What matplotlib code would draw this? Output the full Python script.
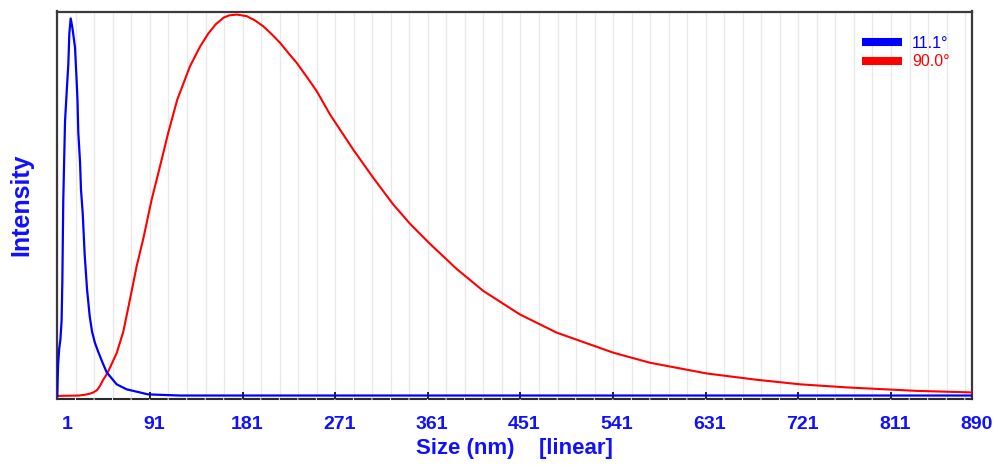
import matplotlib
matplotlib.use('Agg')
import matplotlib.pyplot as plt
from matplotlib.lines import Line2D
from matplotlib.transforms import ScaledTranslation

plt.rcParams['font.family'] = ['Liberation Sans', 'DejaVu Sans']

# intensity distribution vs. size, detector at 11.1 deg
size_11 = [1.0, 1.3, 1.8, 2.8, 4.0, 5.2, 5.9, 6.8, 8.5, 10.3, 11.7, 12.7, 14.0,
           15.6, 18.2, 19.5, 20.6, 21.4, 23.1, 24.0, 25.7, 27.6, 29.9, 32.5,
           34.8, 37.5, 40.8, 45.0, 49.0, 58.7, 68.4, 81.3, 89.0, 120.0, 890.0]
int_11 = [0.003, 0.040, 0.085, 0.125, 0.150, 0.200, 0.300, 0.510, 0.715, 0.800,
          0.863, 0.943, 0.982, 0.959, 0.907, 0.837, 0.772, 0.687, 0.609, 0.539,
          0.477, 0.370, 0.280, 0.210, 0.170, 0.142, 0.118, 0.090, 0.065, 0.034,
          0.021, 0.013, 0.008, 0.005, 0.005]

# detector at 90.0 deg
size_90 = [1.0, 22.0, 28.0, 32.8, 36.0, 39.6, 42.5, 45.4, 49.0, 53.0, 58.7,
           65.1, 71.6, 78.1, 84.6, 92.7, 100.8, 108.8, 117.6, 129.9, 139.7,
           147.7, 155.0, 162.5, 168.0, 175.6, 185.0, 193.0, 201.0, 209.0,
           217.4, 225.0, 233.6, 243.0, 253.0, 266.0, 275.7, 288.6, 308.0,
           327.4, 343.7, 363.1, 389.0, 414.9, 450.5, 486.2, 541.2, 576.8,
           632.4, 680.0, 722.8, 768.4, 836.4, 890.0]
int_90 = [0.004, 0.005, 0.007, 0.010, 0.013, 0.019, 0.030, 0.045, 0.060, 0.082,
          0.115, 0.170, 0.254, 0.340, 0.412, 0.513, 0.599, 0.686, 0.772, 0.858,
          0.909, 0.943, 0.967, 0.984, 0.990, 0.992, 0.988, 0.977, 0.962, 0.942,
          0.919, 0.894, 0.867, 0.832, 0.794, 0.733, 0.694, 0.642, 0.569, 0.500,
          0.450, 0.398, 0.333, 0.276, 0.215, 0.168, 0.116, 0.090, 0.062, 0.046,
          0.034, 0.026, 0.017, 0.013]

labels = ['11.1°', '90.0°']
colors = ['#0000ff', '#ff0000']

major_ticks = [1, 91, 181, 271, 361, 451, 541, 631, 721, 811, 890]
grid_ticks = list(range(1, 890, 18))

W, H = 995, 466
fig = plt.figure(figsize=(W / 100, H / 100), dpi=100)
left, right, top, bottom = 57.3, 972.3, 11.5, 399.0
ax = fig.add_axes([left / W, 1 - bottom / H, (right - left) / W, (bottom - top) / H])

ax.plot(size_90, int_90, color=colors[1], lw=1.5, zorder=3)
ax.plot(size_11, int_11, color=colors[0], lw=1.6, zorder=4)

ax.set_xlim(1, 890)
ax.set_ylim(-0.004, 1.0)

ax.set_xticks(major_ticks)
ax.set_xticks(grid_ticks, minor=True)
ax.set_yticks([])
ax.grid(True, which='both', axis='x', color='#e9e9e9', lw=0.9, zorder=0)
ax.tick_params(axis='x', which='major', direction='in', length=5, width=1.2,
               color='black', pad=12, labelsize=14, labelcolor='#1010ff')
ax.tick_params(axis='x', which='minor', length=0)
for lab in ax.get_xticklabels():
    lab.set_fontweight('bold')
    dx = 10 if lab.get_text() == '1' else 4
    lab.set_transform(lab.get_transform() + ScaledTranslation(dx / 100, 0, fig.dpi_scale_trans))

for side in ['top', 'left', 'right']:
    ax.spines[side].set_color('#3a3a3a')
    ax.spines[side].set_linewidth(1.6)

# bottom axis drawn as dashes broken at every grid line
px = 0.72
step_px = 18 * (right - left) / 889
gap_px = 3.0
lw_b = 1.5
ax.spines['bottom'].set_color('#2a2a2a')
ax.spines['bottom'].set_linewidth(lw_b)
ax.spines['bottom'].set_linestyle(
    ((step_px - gap_px / 2) * px / lw_b,
     ((step_px - gap_px) * px / lw_b, gap_px * px / lw_b)))

ax.set_xlabel('Size (nm)    [linear]', fontsize=16, fontweight='bold',
              color='#1010ff', labelpad=4)
ax.set_ylabel('Intensity', fontsize=18, fontweight='bold', color='#1010ff',
              labelpad=17)

handles = [Line2D([], [], color=c, lw=5.8, solid_capstyle='butt') for c in colors]
ax.legend(handles, labels, loc='upper left', bbox_to_anchor=(0.880, 0.937),
          frameon=False, fontsize=11.5, handlelength=2.5, handletextpad=0.6,
          labelspacing=0.2, borderpad=0, borderaxespad=0, labelcolor=colors)

fig.savefig('out.png', dpi=100)
